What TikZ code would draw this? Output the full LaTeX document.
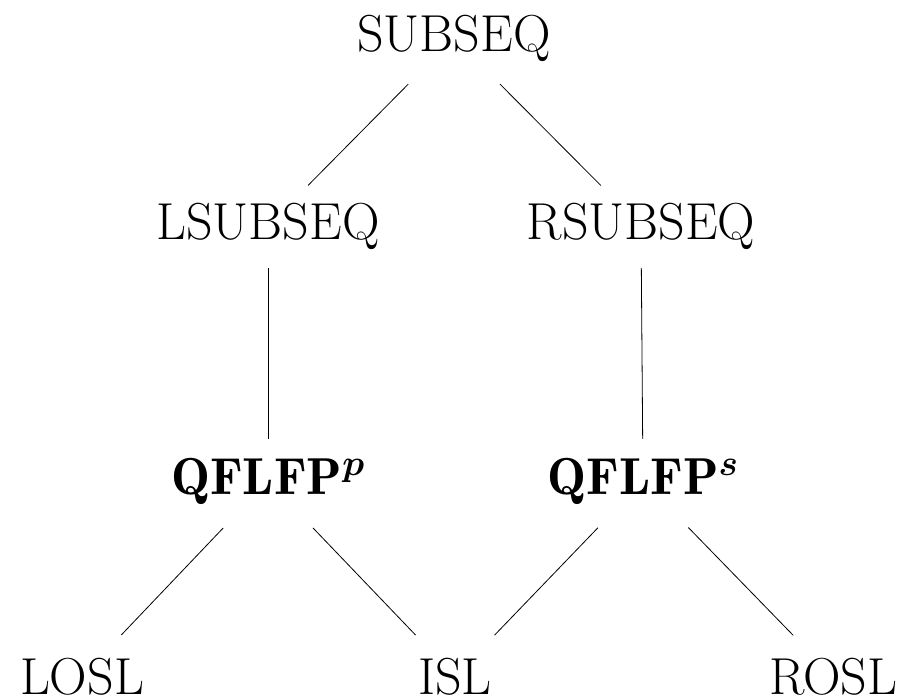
\RequirePackage{fix-cm}
\documentclass[tikz,border=0pt]{standalone}
\usepackage{amsmath}
\usepackage{bm}
\DeclareMathSizes{52}{52}{36.4}{26}
\newcommand{\qbold}[1]{{\fontseries{b}\selectfont #1}}
\begin{document}
\begin{tikzpicture}[x=1pt,y=-1pt,
  lab/.style={inner sep=0pt,font=\fontsize{52}{60}\selectfont},
  edge/.style={draw=black,line width=0.8pt},
  diag/.style={edge,shorten <=65pt,shorten >=57pt},
  vert/.style={edge,shorten <=42pt,shorten >=42pt}]
\useasboundingbox (0,0) rectangle (903,699);
\node[lab,anchor=base] (top) at (454,51) {SUBSEQ};
\node[lab,anchor=base] (ls) at (268,239) {LSUBSEQ};
\node[lab,anchor=base] (rs) at (641,239) {RSUBSEQ};
\node[lab,anchor=base] (qp) at (268,494) {\qbold{QFLFP}$^{\bm{p}}$};
\node[lab,anchor=base] (qs) at (643,494) {\qbold{QFLFP}$^{\bm{s}}$};
\node[lab,anchor=base] (losl) at (82,694) {LOSL};
\node[lab,anchor=base] (isl) at (455,694) {ISL};
\node[lab,anchor=base] (rosl) at (833,694) {ROSL};
\draw[diag] (top.center) -- (ls.center);
\draw[diag] (top.center) -- (rs.center);
\draw[vert] (ls.center) -- (qp.center);
\draw[vert] (rs.center) -- (qs.center);
\draw[diag] (qp.center) -- (losl.center);
\draw[diag] (qp.center) -- (isl.center);
\draw[diag] (qs.center) -- (isl.center);
\draw[diag] (qs.center) -- (rosl.center);
\end{tikzpicture}
\end{document}
